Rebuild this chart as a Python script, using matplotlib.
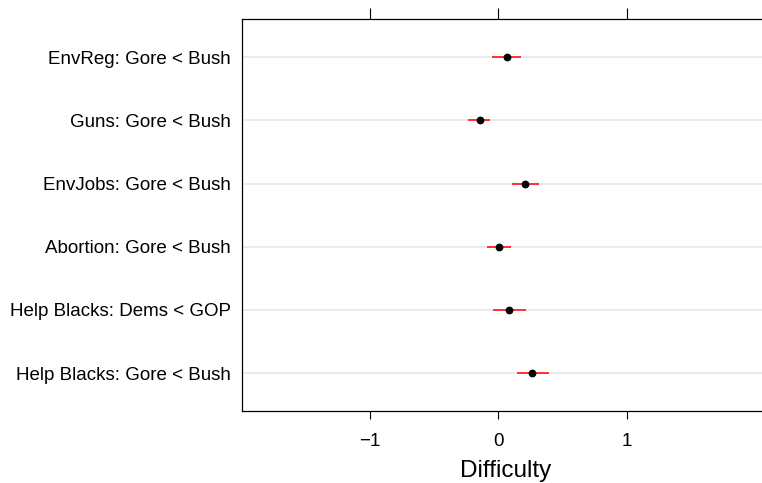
import matplotlib
matplotlib.use("Agg")
import matplotlib.pyplot as plt

plt.rcParams['font.family'] = ['Liberation Sans', 'DejaVu Sans']

categories = ["EnvReg: Gore < Bush", "Guns: Gore < Bush", "EnvJobs: Gore < Bush",
              "Abortion: Gore < Bush", "Help Blacks: Dems < GOP", "Help Blacks: Gore < Bush"]
estimates = [0.07, -0.146, 0.21, 0.005, 0.083, 0.265]
lower = [-0.05, -0.234, 0.104, -0.091, -0.044, 0.145]
upper = [0.18, -0.062, 0.317, 0.098, 0.213, 0.392]
xticks = [-1, 0, 1]
xtick_labels = ["\u22121", "0", "1"]

W, H = 762, 483
fig = plt.figure(figsize=(W / 100, H / 100), dpi=100)
left_px, right_px, top_px, bot_px = 241.7, 770, 19.3, 411
ax = fig.add_axes([left_px / W, 1 - bot_px / H, (right_px - left_px) / W, (bot_px - top_px) / H])

n = len(categories)
ypos = list(range(n, 0, -1))
for y in ypos:
    ax.axhline(y, color='#e6e6e6', lw=1.2, zorder=0)
ax.hlines(ypos, lower, upper, color='red', lw=1.1, zorder=2)
ax.plot(estimates, ypos, 'o', color='black', ms=4.6, zorder=3)

x0 = -2.0
x1 = x0 + (right_px - left_px) / 128.3
ax.set_xlim(x0, x1)
ax.set_ylim(0.4, n + 0.6)
ax.set_yticks(ypos)
ax.set_yticklabels(categories, fontsize=13.5)
ax.tick_params(axis='y', length=0, pad=8)
ax.set_xticks(xticks)
ax.set_xticklabels(xtick_labels, fontsize=13.5)
ax.tick_params(axis='x', direction='out', length=6, width=0.8, top=True, pad=10, colors='black')
for t in ax.xaxis.get_major_ticks():
    t.tick2line.set_markersize(8)
ax.set_xlabel("Difficulty", fontsize=17.5, labelpad=7)
for s in ax.spines.values():
    s.set_linewidth(0.9)
ax.spines['right'].set_visible(False)

fig.savefig("out.png", dpi=100)
